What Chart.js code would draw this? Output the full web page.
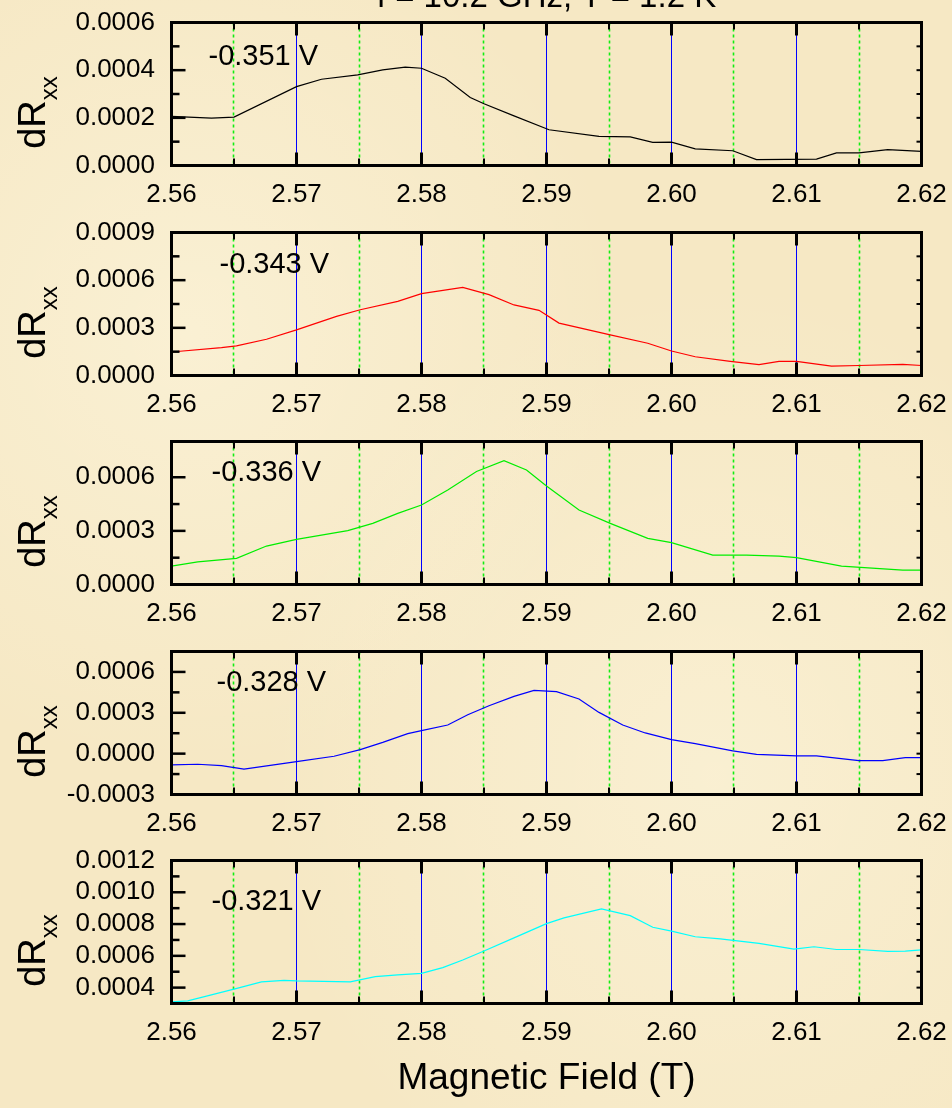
<!DOCTYPE html>
<html><head><meta charset="utf-8">
<script src="https://cdn.jsdelivr.net/npm/chart.js@4.4.1/dist/chart.umd.min.js"></script>
<style>
html,body{margin:0;padding:0;}
body{width:952px;height:1108px;overflow:hidden;position:relative;background:#f6e8c4;
background-image:radial-gradient(ellipse at 20% 30%, rgba(255,250,230,0.45), rgba(255,250,230,0) 40%),radial-gradient(ellipse at 75% 70%, rgba(255,250,230,0.4), rgba(255,250,230,0) 45%);}
canvas{position:absolute;left:0;}
</style></head><body>
<canvas id="c0"></canvas><canvas id="c1"></canvas><canvas id="c2"></canvas><canvas id="c3"></canvas><canvas id="c4"></canvas>
<script>
// ---------------- data ----------------
const plotTitle = 'f = 10.2 GHz, T = 1.2 K';
const fieldTitle = 'Magnetic Field (T)';
const yTitleMain = 'dR';
const yTitleSub = 'xx';
const gateVoltages = ['-0.351 V', '-0.343 V', '-0.336 V', '-0.328 V', '-0.321 V'];
const lineColors = ['#000000', '#ff0000', '#00ee00', '#0000ff', '#00ffff'];
const xTickLabels = ['2.56', '2.57', '2.58', '2.59', '2.60', '2.61', '2.62'];

const field1 = [2.5600, 2.5632, 2.5650, 2.5700, 2.5720, 2.5749, 2.5769, 2.5787, 2.5800, 2.5819, 2.5839, 2.5850, 2.5874, 2.5902, 2.5942, 2.5967, 2.5985, 2.6000, 2.6019, 2.6049, 2.6068, 2.6116, 2.6132, 2.6150, 2.6173, 2.6200];
const dR1 = [0.000206, 0.000199, 0.000203, 0.000331, 0.000362, 0.000380, 0.000401, 0.000413, 0.000408, 0.000366, 0.000285, 0.000259, 0.000208, 0.000150, 0.000122, 0.000120, 0.000097, 0.000098, 0.000070, 0.000062, 0.000025, 0.000027, 0.000053, 0.000053, 0.000067, 0.000059];

const field2 = [2.5600, 2.5640, 2.5652, 2.5676, 2.5700, 2.5732, 2.5751, 2.5781, 2.5800, 2.5833, 2.5854, 2.5874, 2.5894, 2.5910, 2.5951, 2.5981, 2.6000, 2.6019, 2.6047, 2.6070, 2.6086, 2.6100, 2.6128, 2.6150, 2.6185, 2.6200];
const dR2 = [0.000148, 0.000175, 0.000186, 0.000228, 0.000287, 0.000372, 0.000414, 0.000467, 0.000515, 0.000554, 0.000509, 0.000444, 0.000410, 0.000330, 0.000256, 0.000203, 0.000154, 0.000118, 0.000089, 0.000068, 0.000089, 0.000089, 0.000059, 0.000063, 0.000070, 0.000063];

const field3 = [2.5600, 2.5621, 2.5652, 2.5676, 2.5700, 2.5741, 2.5761, 2.5781, 2.5800, 2.5821, 2.5844, 2.5866, 2.5884, 2.5900, 2.5926, 2.5951, 2.5981, 2.6000, 2.6033, 2.6060, 2.6086, 2.6100, 2.6136, 2.6185, 2.6200];
const dR3 = [0.000103, 0.000127, 0.000146, 0.000215, 0.000252, 0.000301, 0.000342, 0.000398, 0.000445, 0.000529, 0.000632, 0.000693, 0.000641, 0.000551, 0.000417, 0.000342, 0.000258, 0.000234, 0.000164, 0.000164, 0.000159, 0.000150, 0.000103, 0.000080, 0.000080];

const field4 = [2.5600, 2.5621, 2.5640, 2.5658, 2.5700, 2.5730, 2.5751, 2.5769, 2.5789, 2.5800, 2.5821, 2.5837, 2.5854, 2.5874, 2.5890, 2.5908, 2.5926, 2.5942, 2.5961, 2.5979, 2.6000, 2.6019, 2.6049, 2.6068, 2.6100, 2.6116, 2.6150, 2.6169, 2.6187, 2.6200];
const dR4 = [-0.000083, -0.000078, -0.000088, -0.000114, -0.000058, -0.000019, 0.000030, 0.000083, 0.000147, 0.000169, 0.000210, 0.000286, 0.000352, 0.000420, 0.000464, 0.000455, 0.000401, 0.000303, 0.000210, 0.000152, 0.000103, 0.000074, 0.000020, -0.000005, -0.000017, -0.000017, -0.000051, -0.000051, -0.000029, -0.000029];

const field5 = [2.5600, 2.5613, 2.5650, 2.5672, 2.5690, 2.5700, 2.5743, 2.5763, 2.5781, 2.5800, 2.5817, 2.5833, 2.5850, 2.5874, 2.5900, 2.5914, 2.5944, 2.5967, 2.5985, 2.6000, 2.6019, 2.6039, 2.6070, 2.6098, 2.6114, 2.6132, 2.6150, 2.6173, 2.6187, 2.6200];
const dR5 = [0.000310, 0.000317, 0.000390, 0.000436, 0.000446, 0.000442, 0.000436, 0.000469, 0.000480, 0.000490, 0.000526, 0.000574, 0.000630, 0.000713, 0.000803, 0.000839, 0.000895, 0.000853, 0.000780, 0.000755, 0.000720, 0.000707, 0.000678, 0.000642, 0.000657, 0.000640, 0.000640, 0.000628, 0.000630, 0.000638];

const yTickLabels1 = ['0.0000', '0.0002', '0.0004', '0.0006'];
const yTickLabels2 = ['0.0000', '0.0003', '0.0006', '0.0009'];
const yTickLabels3 = ['0.0000', '0.0003', '0.0006'];
const yTickLabels4 = ['-0.0003', '0.0000', '0.0003', '0.0006'];
const yTickLabels5 = ['0.0004', '0.0006', '0.0008', '0.0010', '0.0012'];

const yMins = [0, 0, 0, -0.0003, 0.0003];
const yMaxs = [0.0006, 0.0009, 0.0008, 0.00075, 0.0012];
const yMinorSteps = [0.0001, 0.00015, 0.00015, 0.00015, 0.0001];
const yMajorSteps = [0.0002, 0.0003, 0.0003, 0.0003, 0.0002];

// ---------------- layout / style ----------------
const fields = [field1, field2, field3, field4, field5];
const values = [dR1, dR2, dR3, dR4, dR5];
const yLabelSets = [yTickLabels1, yTickLabels2, yTickLabels3, yTickLabels4, yTickLabels5];
const panelTops = [22.5, 232.5, 441.5, 651.5, 860.5];
const panelH = 143;
const plotLeft = 171.5, plotRight = 921.5;
const xAxisH = 60;
const labelOffsets = [[37, 34], [48, 32], [40, 31.5], [45, 31.5], [40, 41]];
const FONT = "'Liberation Sans', Arial, Helvetica, sans-serif";

Chart.defaults.font.family = FONT;
Chart.defaults.color = '#000';

function isMult(v, step) { const r = v / step; return Math.abs(r - Math.round(r)) < 1e-6; }
function fmt(v, d) { if (Math.abs(v) < 1e-12) v = 0; return v.toFixed(d); }

const framePlugin = {
  id: 'frame',
  beforeDatasetsDraw(chart, args, opts) {
    const {ctx, chartArea: a, scales: {x}} = chart;
    ctx.save();
    x.ticks.forEach(t => {
      const major = isMult(t.value, 0.01);
      const px = Math.floor(x.getPixelForValue(t.value)) + 0.5;
      ctx.beginPath();
      ctx.lineWidth = major ? 1 : 1.6;
      ctx.strokeStyle = major ? '#0000ff' : '#11ee11';
      ctx.setLineDash(major ? [] : [3, 3]);
      ctx.moveTo(px, a.top);
      ctx.lineTo(px, a.bottom);
      ctx.stroke();
    });
    ctx.restore();
  },
  afterDatasetsDraw(chart, args, opts) {
    const {ctx, chartArea: a, scales: {x, y}} = chart;
    const i = opts.idx;
    ctx.save();
    ctx.strokeStyle = '#000';
    ctx.setLineDash([]);
    x.ticks.forEach(t => {
      const major = isMult(t.value, 0.01);
      const px = x.getPixelForValue(t.value);
      const len = major ? 13 : 7;
      ctx.lineWidth = major ? 3 : 2;
      ctx.beginPath();
      ctx.moveTo(px, a.top); ctx.lineTo(px, a.top + len);
      ctx.moveTo(px, a.bottom); ctx.lineTo(px, a.bottom - len);
      ctx.stroke();
    });
    y.ticks.forEach(t => {
      const major = isMult(t.value, yMajorSteps[i]);
      const py = y.getPixelForValue(t.value);
      ctx.lineWidth = 2.5;
      ctx.beginPath();
      ctx.moveTo(a.left, py); ctx.lineTo(a.left + (major ? 14 : 8), py);
      ctx.stroke();
      ctx.lineWidth = 2;
      ctx.beginPath();
      ctx.moveTo(a.right, py); ctx.lineTo(a.right - 5, py);
      ctx.stroke();
    });
    ctx.lineWidth = 3;
    ctx.strokeRect(a.left, a.top, a.right - a.left, a.bottom - a.top);
    ctx.restore();
  },
  afterDraw(chart, args, opts) {
    const {ctx, chartArea: a, canvas} = chart;
    const i = opts.idx;
    const top = parseFloat(canvas.style.top);
    ctx.save();
    ctx.fillStyle = '#000';
    ctx.font = '29px ' + FONT;
    ctx.textAlign = 'left';
    ctx.textBaseline = 'middle';
    ctx.fillText(gateVoltages[i], a.left + labelOffsets[i][0], a.top + labelOffsets[i][1]);
    const cy = (a.top + a.bottom) / 2 + 18.5;
    ctx.translate(45, cy);
    ctx.rotate(-Math.PI / 2);
    ctx.font = '38px ' + FONT;
    const w1 = ctx.measureText(yTitleMain).width;
    ctx.font = '24px ' + FONT;
    const w2 = ctx.measureText(yTitleSub).width;
    const x0 = -(w1 + w2) / 2;
    ctx.textBaseline = 'alphabetic';
    ctx.font = '38px ' + FONT;
    ctx.fillText(yTitleMain, x0, 0);
    ctx.font = '24px ' + FONT;
    ctx.fillText(yTitleSub, x0 + w1, 12);
    ctx.setTransform(1, 0, 0, 1, 0, 0);
    ctx.textAlign = 'center';
    ctx.textBaseline = 'alphabetic';
    if (i === 0) {
      ctx.font = '33px ' + FONT;
      ctx.fillText(plotTitle, (plotLeft + plotRight) / 2, 7 - top);
    }
    if (i === 4) {
      ctx.font = '37px ' + FONT;
      ctx.fillText(fieldTitle, (plotLeft + plotRight) / 2, 1089 - top);
    }
    ctx.restore();
  }
};

for (let i = 0; i < 5; i++) {
  const canvas = document.getElementById('c' + i);
  const cTop = Math.floor(panelTops[i]) - 40;
  const padTop = panelTops[i] - cTop;
  const cH = i < 4 ? 244 : 1108 - cTop;
  const padBottom = cH - padTop - panelH - xAxisH;
  canvas.width = 952; canvas.height = cH;
  canvas.style.width = '952px'; canvas.style.height = cH + 'px';
  canvas.style.top = cTop + 'px';
  const pts = fields[i].map((f, k) => ({x: f, y: values[i][k]}));
  const labs = yLabelSets[i];
  const chart = new Chart(canvas, {
    type: 'line',
    data: {datasets: [{data: pts, borderColor: lineColors[i], borderWidth: 1.2, pointRadius: 0, tension: 0, fill: false}]},
    options: {
      responsive: false, animation: false, devicePixelRatio: 1,
      layout: {padding: {top: padTop, bottom: padBottom, left: 0, right: 952 - plotRight}},
      plugins: {legend: {display: false}, tooltip: {enabled: false}, title: {display: false}, frame: {idx: i}},
      scales: {
        x: {
          type: 'linear', position: 'bottom', min: 2.56, max: 2.62,
          afterFit: s => { s.height = xAxisH; },
          grid: {display: false, drawTicks: true, tickLength: 14, drawOnChartArea: false},
          border: {display: false},
          ticks: {stepSize: 0.005, autoSkip: false, maxRotation: 0, minRotation: 0, padding: 0,
            font: {size: 26}, color: '#000',
            callback: v => { if (!isMult(v, 0.01)) return ''; const s = fmt(v, 2); return xTickLabels.includes(s) ? s : ''; }}
        },
        y: {
          type: 'linear', position: 'left', min: yMins[i], max: yMaxs[i],
          afterFit: s => { s.width = plotLeft; },
          grid: {display: false, drawTicks: false, drawOnChartArea: false},
          border: {display: false},
          ticks: {stepSize: yMinorSteps[i], autoSkip: false, padding: 16.5, font: {size: 26}, color: '#000',
            callback: v => { const s = fmt(v, 4); return labs.includes(s) ? s : ''; }}
        }
      }
    },
    plugins: [framePlugin]
  });
  const ca = chart.chartArea;
  const dr = ca.right - plotRight;
  if (Math.abs(dr) > 0.25) {
    chart.options.layout.padding.right = Math.max(0, chart.options.layout.padding.right + dr);
    chart.update();
  }
}
</script>
</body></html>
